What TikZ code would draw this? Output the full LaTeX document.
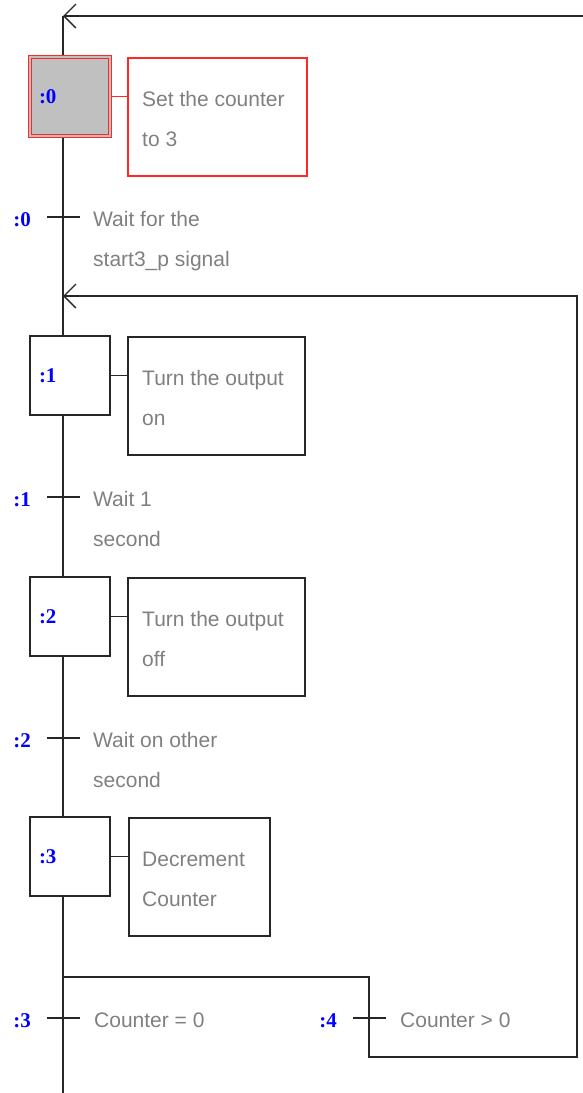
\documentclass[tikz,border=0pt]{standalone}
\usepackage{fontspec}
\setmainfont{Liberation Sans}
\newfontfamily\numfont{Liberation Serif}
\usetikzlibrary{positioning,arrows.meta}
\definecolor{txtgray}{RGB}{128,128,128}
\definecolor{stepgray}{RGB}{192,192,192}
\definecolor{numblue}{RGB}{0,0,255}
\definecolor{actred}{RGB}{255,40,40}

\begin{document}
\begin{tikzpicture}[
  x=1pt, y=-1pt,
  flow/.style={line width=1.5pt, draw=black!85},
  back/.style={flow, -{Straight Barb[length=12pt,width=24pt,line width=1.3pt]}},
  stepbox/.style={
    flow, fill=white,
    minimum height=79pt,
    text width=62pt,
    inner xsep=9pt, inner ysep=0pt,
    align=left,
    font=\numfont\bfseries\fontsize{21}{24}\selectfont,
    text=numblue
  },
  initbox/.style={stepbox, draw=actred, double=stepgray, double distance=1.6pt,
    line width=1.6pt, fill=stepgray},
  actbox/.style={flow, anchor=north west, minimum height=118pt, inner sep=0pt},
  note/.style={anchor=base west, inner sep=0pt, align=left, text=txtgray,
    font=\fontsize{21}{40}\selectfont},
  tnum/.style={anchor=base east, inner sep=0pt, text=numblue,
    font=\numfont\bfseries\fontsize{21}{24}\selectfont}
]
\useasboundingbox (0,0) rectangle (583,1093);

% Colonne principale
\coordinate (top) at (63,16);
\coordinate (bot) at (63,1093);
\coordinate (in0) at (583,16);
\coordinate (ret) at (63,296);
\coordinate (fork) at (63,977);
\draw[flow] (top) -- (bot);
\draw[back] (in0) -- (top);

% Etapes
\node[initbox] (s0) at (70,96.5) {:0};
\node[stepbox] (s1) at (70,375.5) {:1};
\node[stepbox] (s2) at (70,616.5) {:2};
\node[stepbox] (s3) at (70,856.5) {:3};

% Actions (ancre = ligne de base de la 2e ligne)
\node[actbox, draw=actred, minimum width=179pt] (a0) at (127,57) {};
\node[actbox, minimum width=177pt] (a1) at (127,336) {};
\node[actbox, minimum width=177pt] (a2) at (127,577) {};
\node[actbox, minimum width=141pt] (a3) at (128,817) {};
\node[note] (a0txt) at ([shift={(15,89)}]a0.north west) {Set the counter\\to 3};
\node[note] (a1txt) at ([shift={(15,89)}]a1.north west) {Turn the output\\on};
\node[note] (a2txt) at ([shift={(15,89)}]a2.north west) {Turn the output\\off};
\node[note] (a3txt) at ([shift={(14,89)}]a3.north west) {Decrement\\Counter};
\draw[flow, draw=actred] (s0.east) -- (s0.east -| a0.west);
\foreach \i in {1,2,3}
  \draw[flow] (s\i.east) -- (s\i.east -| a\i.west);

% Transitions
\coordinate (t0) at (63,217);
\coordinate (t1) at (63,497);
\coordinate (t2) at (63,738);
\coordinate (t3) at (63,1018);
\coordinate (t4) at (369,1018);
\foreach \t/\n in {t0/0,t1/1,t2/2,t3/3,t4/4} {
  \draw[flow] ([xshift=-16pt]\t) -- ([xshift=17pt]\t);
  \node[tnum] (\t num) at ([shift={(-32,9.5)}]\t) {:\n};
}
\node[note] (t0txt) at ([shift={(30,49.5)}]t0) {Wait for the\\start3\_p signal};
\node[note] (t1txt) at ([shift={(30,49.5)}]t1) {Wait 1\\second};
\node[note] (t2txt) at ([shift={(30,49.5)}]t2) {Wait on other\\second};
\node[note] (t3txt) at ([shift={(31,9.5)}]t3) {Counter = 0};
\node[note] (t4txt) at ([shift={(31,9.5)}]t4) {Counter > 0};

% Boucle de retour
\draw[back] (fork) -| (t4) |- (577,1057) |- (ret);
\end{tikzpicture}
\end{document}
